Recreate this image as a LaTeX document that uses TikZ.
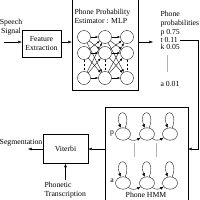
\documentclass[tikz,border=0pt]{standalone}
\usepackage{fontspec}
\setmainfont{Liberation Serif}
\usetikzlibrary{shapes.geometric,arrows.meta}

\begin{document}
\begin{tikzpicture}[x=0.05cm, y=-0.05cm, every node/.style={font=\fontsize{11}{12.5}\selectfont}, >={Latex[length=5pt,width=4pt]}, line width=0.5pt]
  \useasboundingbox (0,0) rectangle (200,200);

  % boxes
  \node[draw, minimum width=1.95cm, minimum height=1.35cm, align=center] (feature) at (41.5,43.5)
    {Feature\\ Extraction};
  \node[draw, minimum width=3.3cm, minimum height=4.65cm] (mlp) at (105,43.5) {};
  \node[draw, minimum width=2.25cm, minimum height=1.45cm] (viterbi) at (65.5,149) {Viterbi};
  \node[draw, minimum width=4.15cm, minimum height=4.9cm] (hmm) at (146.5,156) {};

  % texts
  \node[align=center] (speech) at (11,27.5) {Speech\\ Signal};
  \node[anchor=west, align=left] (mlptext) at (72,16) {Phone Probability\\ Estimator : MLP};
  \node[anchor=west, align=left] (probtext) at (158,19) {Phone\\ probabilities};
  \node[anchor=west] (pprob) at (158,33) {p 0.75};
  \node[anchor=west] (tprob) at (158,40) {t 0.11};
  \node[anchor=west] (kprob) at (158,47) {k 0.05};
  \node[anchor=west] (aprob) at (158,84) {a 0.01};
  \node (seg) at (21,143) {Segmentation};
  \node[anchor=west, align=left] (phon) at (42,190) {Phonetic\\ Transcription};
  \node (hmmtext) at (146,195) {Phone HMM};

  % MLP
  \foreach \c/\x in {1/84, 2/105, 3/127}
    \foreach \r/\y in {1/37, 2/53, 3/78}
      \node[draw, circle, minimum size=0.65cm] (m\c\r) at (\x,\y) {};
  \foreach \i in {1,2,3}
    \foreach \j in {1,2,3} {
      \draw[-{Latex[length=4pt,width=3pt]}] (m1\i) -- (m2\j);
      \draw[-{Latex[length=4pt,width=3pt]}] (m2\i) -- (m3\j);
    }
  \foreach \c in {1,2,3}
    \draw[dashed] (m\c2) -- (m\c3);

  % HMM states
  \foreach \n/\x in {1/123, 2/147, 3/170} {
    \node[draw, ellipse, minimum width=0.75cm, minimum height=0.62cm] (p\n) at (\x,134) {};
    \node[draw, ellipse, minimum width=0.75cm, minimum height=0.62cm] (a\n) at (\x,183) {};
  }
  \node (plabel) at (112,133) {p};
  \node (alabel) at (112,181) {a};
  \foreach \s in {p1,p2,p3,a1,a2,a3}
    \draw[->] (\s) to[out=70, in=110, distance=1.05cm] (\s);
  \draw[->] (p1.-40) to[out=-40, in=-150] (p2.-150);
  \draw[->] (p2.-40) to[out=-40, in=-150] (p3.-150);
  \draw[->] (a1.-40) to[out=-40, in=-150] (a2.-150);
  \draw[->] (a2.-40) to[out=-40, in=-150] (a3.-150);
  \draw[gray!60] (134,143) -- (134,157);
  \draw[gray!60] (156,143) -- (156,157);
  \draw[gray!60] (167,55) -- (167,72);

  % connectors
  \coordinate (speechin) at (4,42);
  \coordinate (probin) at (153,42);
  \coordinate (turn) at (198,40);
  \coordinate (segend) at (28,149);
  \draw[->] (speechin) -- (speechin -| feature.west);
  \draw[->] (feature.east |- speechin) -- (mlp.west |- speechin);
  \draw[->] (mlp.east |- probin) -- (probin);
  \draw[->] (tprob.east) -- (tprob.east -| turn) |- (hmm.east |- viterbi);
  \draw[->] (hmm.west |- viterbi) -- (viterbi.east);
  \draw[->] (viterbi.west) -- (segend);
  \draw[->] (phon.north -| viterbi) -- (viterbi.south);
\end{tikzpicture}
\end{document}
